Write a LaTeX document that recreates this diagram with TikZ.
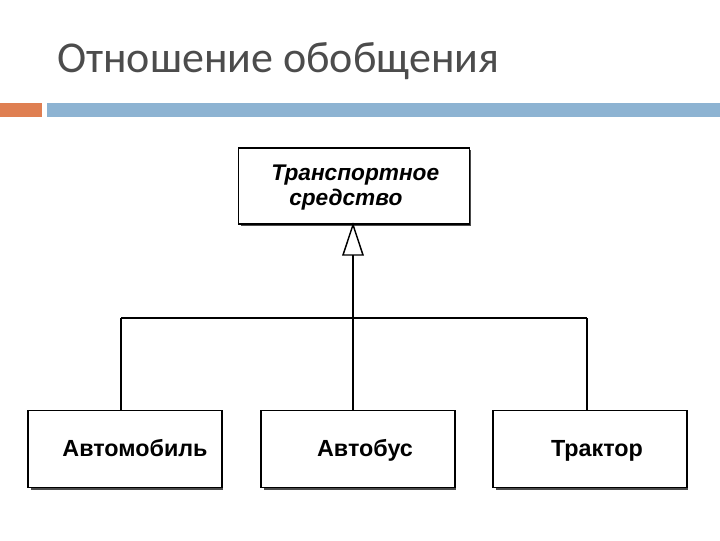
\documentclass[tikz,border=0pt]{standalone}
\usepackage{fontspec}
\setmainfont{Liberation Sans}
\newfontfamily\titlefont{Carlito}
\definecolor{barorange}{HTML}{DF7F52}
\definecolor{barblue}{HTML}{8DB3D2}
\begin{document}
\begin{tikzpicture}[x=0.75pt,y=-0.75pt,
  cls/.style={draw,line width=1.2pt,fill=white,minimum width=193.5*0.75pt,minimum height=77*0.75pt,inner sep=0pt},
  shadow/.style={fill=black!70},
  lbl/.style={font=\fontsize{17.5}{20}\selectfont\bfseries,anchor=base,inner sep=0pt},
  ln/.style={line width=1.1pt}]
\useasboundingbox (0,0) rectangle (720,540);
\node[anchor=base west,inner sep=0pt,text=black!70,font=\titlefont\fontsize{33}{37}\selectfont] (title) at (57,72) {Отношение обобщения};
\fill[barorange] (0,103) rectangle (42,117);
\fill[barblue] (47,103) rectangle (720,117);
% top box
\fill[shadow] (241,150) rectangle (471,226);
\node[cls,minimum width=231*0.75pt,minimum height=76*0.75pt] (top) at (354,186) {};
\node[anchor=base west,inner sep=0pt,font=\fontsize{17}{19}\selectfont\bfseries\itshape] (t1) at (271,180) {Транспортное};
\node[anchor=base west,inner sep=0pt,font=\fontsize{17}{19}\selectfont\bfseries\itshape] (t2) at (289,205) {средство};
% bottom boxes
\foreach \n/\cx in {a/125, b/358, c/590}{
  \fill[shadow] (\cx-94,413) rectangle (\cx+98,490);
  \node[cls] (\n) at (\cx,449) {};
}
\node[lbl] (la) at (135,456) {Автомобиль};
\node[lbl] (lb) at (365,456) {Автобус};
\node[lbl] (lc) at (597,456) {Трактор};
% connectors
\coordinate (tri) at (353,255);
\coordinate (j) at (353,318);
\draw[ln,fill=white] (top.south -| tri) -- (343,255) -- (363,255) -- cycle;
\draw[ln] (tri) -- (j);
\draw[ln] (121,318) -- (587,318);
\draw[ln] (121,318) -- (121,410);
\draw[ln] (353,318) -- (353,410);
\draw[ln] (587,318) -- (587,410);
\end{tikzpicture}
\end{document}
